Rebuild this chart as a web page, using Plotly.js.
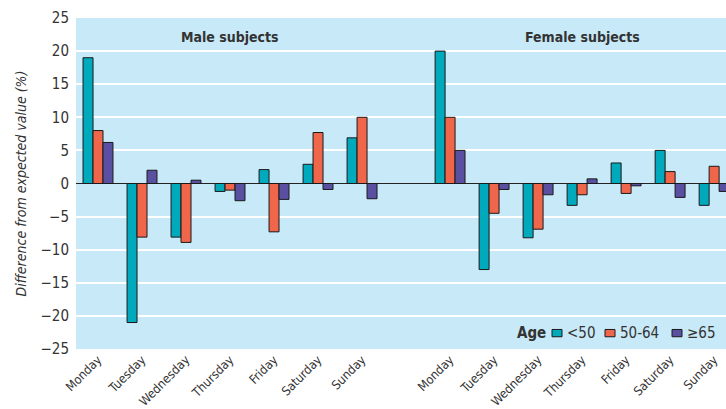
<!DOCTYPE html>
<html>
<head>
<meta charset="utf-8">
<script src="https://cdn.plot.ly/plotly-3.0.1.min.js"></script>
<style>html,body{margin:0;padding:0;background:#fff;}#chart{width:726px;height:409px;}</style>
</head>
<body>
<div id="chart"></div>
<script>
const days = ["Monday","Tuesday","Wednesday","Thursday","Friday","Saturday","Sunday"];
const ageGroups = ["<50","50-64","≥65"];
const male_lt50 =   [19.0, -21.0, -8.1, -1.2,  2.1,  2.9,  6.9];
const male_50_64 =  [ 8.0,  -8.1, -8.9, -1.0, -7.3,  7.7, 10.0];
const male_ge65 =   [ 6.2,   2.0,  0.5, -2.6, -2.4, -0.9, -2.3];
const female_lt50 = [20.0, -13.0, -8.2, -3.3,  3.1,  5.0, -3.3];
const female_50_64 =[10.0,  -4.5, -6.9, -1.7, -1.5,  1.8,  2.6];
const female_ge65 = [ 5.0,  -0.9, -1.7,  0.7, -0.35, -2.1, -1.2];
const panelTitles = ["Male subjects","Female subjects"];
const legendTitle = "Age";
const yTicks = [-25,-20,-15,-10,-5,0,5,10,15,20,25];

const colors = ["#00a9bb","#f0664a","#5a50a2"];
const femaleOffset = days.length + 1;
const xMale = days.map((d,i)=>i);
const xFemale = days.map((d,i)=>i+femaleOffset);
const xAll = xMale.concat(xFemale);
const series = [
  male_lt50.concat(female_lt50),
  male_50_64.concat(female_50_64),
  male_ge65.concat(female_ge65)
];
const traces = series.map((ys,k)=>({
  type:"bar", name:ageGroups[k], x:xAll, y:ys,
  marker:{color:colors[k], line:{color:"#1a1a1a", width:1}},
  hoverinfo:"skip"
}));

const font = "DejaVu Sans Condensed, Liberation Sans Narrow, Arial Narrow, sans-serif";
const W = 726, ML = 76, MR = 0;
const PW = W - ML - MR;
const px = v => (v - ML) / PW;   // pixel -> paper x

// manual legend (compact, like the reference)
const legendY = 0.048;
const legSq = [552, 605, 672];
const shapes = [];
const annotations = [
  {x:3, y:22.2, xref:"x", yref:"y", text:"<b>"+panelTitles[0]+"</b>", showarrow:false, font:{family:font, size:14, color:"#333"}},
  {x:3+femaleOffset, y:22.2, xref:"x", yref:"y", text:"<b>"+panelTitles[1]+"</b>", showarrow:false, font:{family:font, size:14, color:"#333"}},
  {x:px(548), y:legendY, xref:"paper", yref:"paper", xanchor:"right", yanchor:"middle", text:"<b>"+legendTitle+"</b>", showarrow:false, font:{family:font, size:15, color:"#333"}}
];
ageGroups.forEach((g,k)=>{
  shapes.push({type:"rect", xref:"paper", yref:"paper",
    x0:px(legSq[k]), x1:px(legSq[k]+10), y0:legendY-0.011, y1:legendY+0.011,
    fillcolor:colors[k], line:{color:"#1a1a1a", width:1}});
  annotations.push({x:px(legSq[k]+13), y:legendY, xref:"paper", yref:"paper", xanchor:"left", yanchor:"middle",
    text:g, showarrow:false, font:{family:font, size:15, color:"#333"}});
});

const layout = {
  width:726, height:409,
  margin:{l:ML, r:MR, t:18, b:60},
  paper_bgcolor:"#ffffff",
  plot_bgcolor:"#c8e9f8",
  barmode:"group", bargap:0.32, bargroupgap:0,
  font:{family:font, color:"#333333", size:14},
  showlegend:false,
  xaxis:{
    range:[-0.5, 14.27], tickmode:"array",
    tickvals:xAll, ticktext:days.concat(days),
    tickangle:-45, tickfont:{family:font, size:12.5, color:"#333"},
    showgrid:false, zeroline:false, showline:false, ticks:""
  },
  yaxis:{
    range:[-25,25], tickmode:"array", tickvals:yTicks,
    tickfont:{family:font, size:15, color:"#333"},
    ticklabelstandoff:6,
    showgrid:true, gridcolor:"#ffffff", gridwidth:2,
    zeroline:true, zerolinecolor:"#222222", zerolinewidth:1,
    showline:false, ticks:"",
    title:{text:"<i>Difference from expected value (%)</i>", font:{family:font, size:14, color:"#333"}, standoff:10}
  },
  shapes:shapes,
  annotations:annotations
};
Plotly.newPlot("chart", traces, layout, {displayModeBar:false, staticPlot:true});
</script>
</body>
</html>
